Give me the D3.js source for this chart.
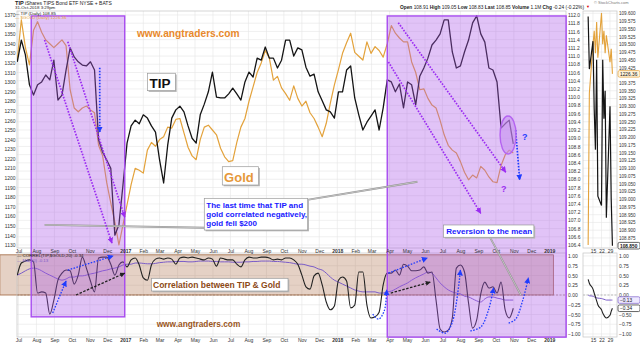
<!DOCTYPE html>
<html><head><meta charset="utf-8">
<script src="https://cdn.jsdelivr.net/npm/d3@7/dist/d3.min.js"></script>
<style>
html,body{margin:0;padding:0;background:#fff;overflow:hidden}
svg{display:block;font-family:"Liberation Sans",Arial,Helvetica,sans-serif}
</style></head><body>
<svg id="chart" width="640" height="343"></svg>
<script>
// ================= DATA =================
// weekly samples (every 7 days) starting 2016-06-29, through 2018-10-31
const weekStart = "2016-06-29";
const tipValues = [110.86,111.39,111.03,110.30,110.05,110.30,110.37,110.54,110.42,110.90,
109.93,110.05,110.66,111.20,110.98,110.86,110.78,110.76,110.86,110.66,
108.96,108.66,108.47,108.27,106.64,106.89,107.86,108.88,109.30,109.44,
109.35,109.57,109.49,109.30,109.15,108.47,107.91,108.83,109.49,109.69,
109.78,109.64,109.30,109.00,108.88,109.57,109.83,110.13,110.61,110.00,
109.98,109.98,110.08,110.22,110.08,109.93,110.37,110.61,110.49,110.95,
110.90,111.22,110.95,110.95,110.71,110.90,111.39,111.39,111.00,111.20,
111.15,110.73,110.51,110.56,110.13,109.91,109.69,109.64,109.49,110.13,
110.13,110.66,110.76,109.98,109.57,109.20,109.39,109.54,109.69,109.20,
109.74,110.42,110.37,110.13,110.32,109.74,110.37,110.30,109.81,110.51,
110.71,110.95,111.27,111.39,111.54,111.88,111.88,111.10,110.71,110.76,
111.10,111.39,111.81,111.98,111.54,111.34,110.71,110.66,110.37,109.25,
109.35,109.44,108.86];
const goldValues = [1323,1365,1336,1318,1354,1363,1352,1344,1340,1336,
1340,1344,1338,1292,1273,1269,1273,1275,1271,1268,
1234,1223,1195,1174,1154,1130,1151,1172,1193,1210,
1208,1205,1229,1237,1233,1240,1243,1253,1252,1261,
1262,1247,1232,1223,1219,1240,1253,1255,1250,1245,
1231,1222,1217,1218,1237,1253,1262,1280,1295,1310,
1320,1333,1325,1302,1306,1294,1288,1281,1296,1283,
1275,1280,1268,1262,1253,1243,1257,1278,1297,1313,
1330,1341,1351,1331,1327,1323,1342,1330,1337,1333,
1326,1340,1359,1351,1346,1342,1342,1321,1310,1292,
1293,1283,1276,1273,1260,1245,1234,1229,1226,1217,
1206,1198,1203,1200,1212,1208,1201,1196,1195,1213,
1224,1229,1226];
const correlValues = [0.51,0.82,0.87,0.90,0.85,0.05,0.08,0.05,-0.49,-0.13,
0.38,0.56,0.64,0.62,0.28,0.51,0.97,0.69,0.36,0.08,
0.95,0.97,0.97,0.79,0.51,0.77,0.85,0.72,0.90,0.95,
0.77,0.44,0.38,0.77,0.92,0.95,0.92,0.95,0.92,0.79,
0.95,0.97,0.95,0.97,0.95,0.92,0.90,0.95,0.92,0.74,
0.95,0.92,0.90,0.90,0.79,0.72,0.90,0.97,0.95,0.95,
0.97,0.97,0.95,0.90,0.92,0.90,0.95,0.95,0.90,0.79,
0.51,0.21,0.15,0.49,0.56,0.26,-0.18,-0.38,-0.28,0.38,
0.46,0.36,-0.33,-0.26,0.59,0.59,-0.26,-0.59,-0.56,-0.44,
0.26,0.56,0.56,0.64,0.51,0.79,0.74,0.62,0.62,0.64,
0.72,0.56,0.59,-0.13,-0.87,-0.95,-0.90,-0.59,0.69,0.77,
0.59,-0.21,-0.85,-0.64,0.03,0.33,0.18,0.21,0.05,0.33,
-0.38,-0.59,-0.34];
const maValues = [0.51,0.56,0.62,0.67,0.69,0.67,0.62,0.56,0.51,0.46,
0.41,0.38,0.41,0.46,0.46,0.49,0.49,0.51,0.54,0.56,
0.59,0.62,0.64,0.67,0.69,0.72,0.77,0.79,0.79,0.82,
0.82,0.81,0.80,0.80,0.81,0.83,0.84,0.85,0.85,0.86,
0.86,0.86,0.85,0.85,0.86,0.87,0.87,0.87,0.86,0.86,
0.85,0.85,0.85,0.84,0.84,0.84,0.85,0.85,0.86,0.86,
0.87,0.87,0.87,0.86,0.86,0.85,0.84,0.83,0.81,0.79,
0.79,0.77,0.74,0.72,0.67,0.64,0.56,0.46,0.38,0.33,
0.28,0.23,0.18,0.13,0.10,0.08,0.08,0.08,0.08,0.05,
0.05,0.08,0.10,0.15,0.21,0.26,0.31,0.38,0.44,0.49,
0.54,0.59,0.56,0.44,0.31,0.21,0.13,0.08,0.05,0.03,
-0.03,-0.05,-0.10,-0.15,-0.18,-0.10,-0.05,-0.05,-0.08,-0.10,
-0.13,-0.13,-0.13];

// side (recent-days) panel
const sideDates = ["2018-10-11","2018-10-12","2018-10-15","2018-10-16","2018-10-17","2018-10-18","2018-10-19","2018-10-22","2018-10-23","2018-10-24","2018-10-25","2018-10-26","2018-10-29","2018-10-30","2018-10-31"];
const sideTip = [109.59,109.42,109.51,109.29,109.16,109.45,109.01,108.98,109.45,109.26,109.35,108.94,109.30,109.00,108.85];
const sideGold = [1188,1222,1233,1236,1231,1238,1230,1240,1233,1236,1231,1235,1229,1232,1226.36];
const sideCorrel = [0.40,0.30,0.15,0.05,-0.05,-0.15,-0.25,-0.38,-0.46,-0.52,-0.57,-0.59,-0.52,-0.42,-0.34];
const sideMa = [0.00,-0.02,-0.03,-0.05,-0.06,-0.07,-0.08,-0.09,-0.10,-0.11,-0.12,-0.13,-0.13,-0.13,-0.13];

// tick labels
const goldTicks = [1130,1140,1150,1160,1170,1180,1190,1200,1210,1220,1230,1240,1250,1260,1270,1280,1290,1300,1310,1320,1330,1340,1350,1360,1370];
const tipTicks = [106.4,106.6,106.8,107.0,107.2,107.4,107.6,107.8,108.0,108.2,108.4,108.6,108.8,109.0,109.2,109.4,109.6,109.8,110.0,110.2,110.4,110.6,110.8,111.0,111.2,111.4,111.6,111.8,112.0];
const corTicks = [1,0.75,0.5,0.25,0,-0.25,-0.5,-0.75,-1];
const sideTicks = [109.600,109.575,109.550,109.525,109.500,109.475,109.450,109.425,109.375,109.350,109.325,109.300,109.275,109.250,109.225,109.200,109.175,109.150,109.125,109.100,109.075,109.050,109.025,109.000,108.975,108.950,108.925,108.900,108.875];
const sideCorTicks = [1,0.75,0.5,0.25,0,-0.5,-0.75,-1];
const sideDayTicks = ["2018-10-15","2018-10-22","2018-10-29"];
const monthStart = "2016-07-01", monthEnd = "2019-01-02";

// ================= SCALES =================
const parse = d3.timeParse("%Y-%m-%d");
const weekDates = tipValues.map((_, i) => d3.timeDay.offset(parse(weekStart), 7 * i));
const x = d3.scaleTime().domain([parse("2017-01-01"), parse("2019-01-01")]).range([125.3, 549.3]);
const yGold = d3.scaleLinear().domain([1130, 1370]).range([245, 15]);
const yTip = d3.scaleLinear().domain([106.4, 112.0]).range([245, 15]);
const yCor = d3.scaleLinear().domain([-1, 1]).range([334, 256]);
const sideX = d3.scaleTime().domain([parse("2018-10-15"), parse("2018-10-29")]).range([593, 610]);
const ySide = d3.scaleLinear().domain([108.85, 109.6]).range([245.7, 13.3]);
const ySideGold = d3.scaleLinear().domain([1188, 1240]).range([245, 13]);

const P = {l: 17, r: 566, t: 11, b: 248, lt: 253, lb: 337, sl: 583, sr: 617};
const C = {tip: "#141414", gold: "#e3a23b", purple: "#9b2cf2", blue: "#1f3cff", ma: "#7a5cc8", brown: "#8d4a17"};

const svg = d3.select("#chart");
svg.append("rect").attr("width", 640).attr("height", 343).attr("fill", "#fff");
const defs = svg.append("defs");
function marker(id, color, s) {
  defs.append("marker").attr("id", id).attr("viewBox", "0 0 10 10").attr("refX", 9).attr("refY", 5)
    .attr("markerWidth", s).attr("markerHeight", s).attr("markerUnits", "userSpaceOnUse").attr("orient", "auto")
    .append("path").attr("d", "M0,0L10,5L0,10z").attr("fill", color);
}
marker("aP", C.purple, 6); marker("aB", C.blue, 6); marker("aK", "#222", 5);
function clip(id, x0, y0, w, h) { defs.append("clipPath").attr("id", id).append("rect").attr("x", x0).attr("y", y0).attr("width", w).attr("height", h); }
clip("cMain", P.l, P.t, P.r - P.l, P.b - P.t);
clip("cLow", P.l, P.lt, P.r - P.l, P.lb - P.lt);
clip("cSide", P.sl, P.t, P.sr - P.sl, P.b - P.t);
clip("cSideLow", P.sl, P.lt, P.sr - P.sl, P.lb - P.lt);

// ================= GRID =================
const months = d3.timeMonth.range(parse(monthStart), parse(monthEnd));
const grid = svg.append("g").attr("stroke", "#e6e6e6").attr("stroke-width", 0.6);
months.forEach(m => {
  grid.append("line").attr("x1", x(m)).attr("x2", x(m)).attr("y1", P.t).attr("y2", P.b);
  grid.append("line").attr("x1", x(m)).attr("x2", x(m)).attr("y1", P.lt).attr("y2", P.lb);
});
tipTicks.forEach(v => grid.append("line").attr("x1", P.l).attr("x2", P.r).attr("y1", yTip(v)).attr("y2", yTip(v)));
corTicks.forEach(v => grid.append("line").attr("x1", P.l).attr("x2", P.r).attr("y1", yCor(v)).attr("y2", yCor(v)));
sideTicks.forEach(v => grid.append("line").attr("x1", P.sl).attr("x2", P.sr).attr("y1", ySide(v)).attr("y2", ySide(v)));
sideDayTicks.forEach(d => {
  grid.append("line").attr("x1", sideX(parse(d))).attr("x2", sideX(parse(d))).attr("y1", P.t).attr("y2", P.b);
  grid.append("line").attr("x1", sideX(parse(d))).attr("x2", sideX(parse(d))).attr("y1", P.lt).attr("y2", P.lb);
});
corTicks.forEach(v => grid.append("line").attr("x1", P.sl).attr("x2", P.sr).attr("y1", yCor(v)).attr("y2", yCor(v)));

// tan correlation band (0 .. 1)
svg.append("rect")
  .attr("x", x(parse("2016-05-30"))).attr("y", yCor(1.03))
  .attr("width", x(parse("2019-01-08")) - x(parse("2016-05-30"))).attr("height", yCor(0) - yCor(1.03))
  .attr("fill", "rgba(168,104,62,0.30)").attr("stroke", "#a0643c").attr("stroke-width", 0.8);
// zero line
svg.append("line").attr("x1", P.l).attr("x2", P.r).attr("y1", yCor(0)).attr("y2", yCor(0))
  .attr("stroke", "#9a7a66").attr("stroke-width", 0.7).attr("stroke-dasharray", "2,1.5");
svg.append("line").attr("x1", P.sl).attr("x2", P.sr).attr("y1", yCor(0)).attr("y2", yCor(0))
  .attr("stroke", "#999").attr("stroke-width", 0.6).attr("stroke-dasharray", "2,1.5");

// frames
[[P.l, P.t, P.r - P.l, P.b - P.t], [P.l, P.lt, P.r - P.l, P.lb - P.lt], [P.sl, P.t, P.sr - P.sl, P.b - P.t], [P.sl, P.lt, P.sr - P.sl, P.lb - P.lt]]
  .forEach(r => svg.append("rect").attr("x", r[0]).attr("y", r[1]).attr("width", r[2]).attr("height", r[3]).attr("fill", "none").attr("stroke", "#c4c4c4").attr("stroke-width", 0.7));

// ================= LINES =================
const lineGold = d3.line().x((d, i) => x(weekDates[i])).y(d => yGold(d));
const lineTip = d3.line().x((d, i) => x(weekDates[i])).y(d => yTip(d));
const lineCor = d3.line().x((d, i) => x(weekDates[i])).y(d => yCor(d)).curve(d3.curveMonotoneX);
svg.append("path").datum(goldValues).attr("d", lineGold).attr("clip-path", "url(#cMain)")
  .attr("fill", "none").attr("stroke", C.gold).attr("stroke-width", 1.2).attr("stroke-linejoin", "round");
svg.append("path").datum(tipValues).attr("d", lineTip).attr("clip-path", "url(#cMain)")
  .attr("fill", "none").attr("stroke", C.tip).attr("stroke-width", 1.3).attr("stroke-linejoin", "round");
svg.append("path").datum(maValues).attr("d", lineCor).attr("clip-path", "url(#cLow)")
  .attr("fill", "none").attr("stroke", C.ma).attr("stroke-width", 1);
svg.append("path").datum(correlValues).attr("d", lineCor).attr("clip-path", "url(#cLow)")
  .attr("fill", "none").attr("stroke", "#222").attr("stroke-width", 1.1);

// side panel
const sD = sideDates.map(parse);
svg.append("path").datum(sideGold).attr("clip-path", "url(#cSide)")
  .attr("d", d3.line().x((d, i) => sideX(sD[i])).y(d => ySideGold(d)))
  .attr("fill", "none").attr("stroke", C.gold).attr("stroke-width", 1.1);
svg.append("path").datum(sideTip).attr("clip-path", "url(#cSide)")
  .attr("d", d3.line().x((d, i) => sideX(sD[i])).y(d => ySide(d)))
  .attr("fill", "none").attr("stroke", C.tip).attr("stroke-width", 1.2);
const sideCorLine = d3.line().x((d, i) => sideX(sD[i])).y(d => yCor(d)).curve(d3.curveMonotoneX);
svg.append("path").datum(sideMa).attr("d", sideCorLine).attr("clip-path", "url(#cSideLow)")
  .attr("fill", "none").attr("stroke", C.ma).attr("stroke-width", 1);
svg.append("path").datum(sideCorrel).attr("d", sideCorLine).attr("clip-path", "url(#cSideLow)")
  .attr("fill", "none").attr("stroke", "#222").attr("stroke-width", 1.1);

// ================= PURPLE HIGHLIGHT ZONES =================
function zone(d0, d1, yTop, yBot) {
  svg.append("rect").attr("x", x(parse(d0))).attr("y", yTop).attr("width", x(parse(d1)) - x(parse(d0))).attr("height", yBot - yTop)
    .attr("fill", "rgba(172,88,232,0.36)").attr("stroke", "#a84cf0").attr("stroke-width", 1.4);
}
zone("2016-07-23", "2016-12-31", yGold(1369), yCor(-0.56));
zone("2018-03-28", "2019-01-30", yGold(1369), yCor(-1.08));

// ================= AXES =================
const fs = 5;
function styleAxis(g) { g.select(".domain").remove(); g.selectAll("text").attr("font-size", fs).attr("fill", "#333"); }
svg.append("g").attr("transform", `translate(${P.l},0)`)
  .call(d3.axisLeft(yGold).tickValues(goldTicks).tickSize(0).tickPadding(1.5).tickFormat(d3.format("d"))).call(styleAxis);
svg.append("g").attr("transform", `translate(${P.r},0)`)
  .call(d3.axisRight(yTip).tickValues(tipTicks).tickSize(0).tickPadding(2).tickFormat(d3.format(".1f"))).call(styleAxis);
svg.append("g").attr("transform", `translate(${P.r},0)`)
  .call(d3.axisRight(yCor).tickValues(corTicks).tickSize(0).tickPadding(2).tickFormat(d3.format(".2f"))).call(styleAxis);
const mFmt = d => d.getMonth() === 0 ? d3.timeFormat("%Y")(d) : d3.timeFormat("%b")(d);
[P.b, P.lb].forEach(yy => {
  const g = svg.append("g").attr("transform", `translate(0,${yy})`)
    .call(d3.axisBottom(x).tickValues(months).tickSize(0).tickPadding(1).tickFormat(mFmt)).call(styleAxis);
  g.selectAll("text").attr("font-weight", d => d.getMonth() === 0 ? "bold" : "normal");
});
// side axes
svg.append("g").attr("transform", `translate(${P.sr},0)`)
  .call(d3.axisRight(ySide).tickValues(sideTicks).tickSize(0).tickPadding(2).tickFormat(d3.format(".3f"))).call(styleAxis)
  .selectAll("text").attr("font-size", 4.6);
svg.append("g").attr("transform", `translate(${P.sr},0)`)
  .call(d3.axisRight(yCor).tickValues(sideCorTicks).tickSize(0).tickPadding(2).tickFormat(d3.format(".2f"))).call(styleAxis);
[P.b, P.lb].forEach(yy => svg.append("g").attr("transform", `translate(0,${yy})`)
  .call(d3.axisBottom(sideX).tickValues(sideDayTicks.map(parse)).tickSize(0).tickPadding(1).tickFormat(d3.timeFormat("%-d"))).call(styleAxis));

// value boxes on side axes
function valBox(yy, txt, stroke, fill, bold) {
  svg.append("rect").attr("x", P.sr + 1).attr("y", yy - 3.3).attr("width", 22).attr("height", 6.6).attr("rx", 1.5)
    .attr("fill", fill).attr("stroke", stroke).attr("stroke-width", 0.7);
  svg.append("text").attr("x", P.sr + 3).attr("y", yy + 1.8).attr("font-size", 4.8).attr("font-weight", bold ? "bold" : "normal")
    .attr("fill", "#111").text(txt);
}
valBox(ySideGold(sideGold[sideGold.length - 1]), d3.format(".2f")(sideGold[sideGold.length - 1]), C.gold, "#fff4dc", false);
valBox(ySide(sideTip[sideTip.length - 1]), d3.format(".3f")(sideTip[sideTip.length - 1]), "#222", "#fff", true);
valBox(yCor(sideMa[sideMa.length - 1]), d3.format(".2f")(sideMa[sideMa.length - 1]), C.ma, "#eee8ff", false);
valBox(yCor(sideCorrel[sideCorrel.length - 1]), d3.format(".2f")(sideCorrel[sideCorrel.length - 1]), "#222", "#fff", false);

// ================= HEADER / LEGENDS =================
const hdr = svg.append("g").attr("fill", "#222");
hdr.append("text").attr("x", 15).attr("y", 4.6).attr("font-size", 5).html('<tspan font-weight="bold" font-size="5.6">TIP</tspan> iShares TIPS Bond ETF  NYSE + BATS');
hdr.append("text").attr("x", 15).attr("y", 9.2).attr("font-size", 4.4).text("31-Oct-2018 3:29pm");
hdr.append("text").attr("x", 15).attr("y", 14.6).attr("font-size", 4.4).text("— TIP (Daily) " + d3.format(".2f")(tipValues[tipValues.length - 1] - 0.01));
hdr.append("text").attr("x", 15).attr("y", 19).attr("font-size", 4.4).attr("fill", C.gold).text("— $GOLD (Daily) 1226.36");
hdr.append("text").attr("x", 400).attr("y", 8.5).attr("font-size", 4.6).attr("textLength", 184).attr("lengthAdjust", "spacingAndGlyphs")
  .html('<tspan font-weight="bold">Open</tspan> 108.91  <tspan font-weight="bold">High</tspan> 109.05  <tspan font-weight="bold">Low</tspan> 108.83  <tspan font-weight="bold">Last</tspan> 108.85  <tspan font-weight="bold">Volume</tspan> 1.1M  <tspan font-weight="bold">Chg</tspan> -0.24 (-0.22%)');
hdr.append("text").attr("x", 586).attr("y", 8.3).attr("font-size", 4).attr("fill", "#d00").text("▼");
hdr.append("text").attr("x", 594).attr("y", 3.6).attr("font-size", 4).attr("fill", "#777").text("© StockCharts.com");
svg.append("text").attr("x", 17).attr("y", 256.8).attr("font-size", 4.4).attr("fill", "#222").text("— CORREL(TIP,$GOLD,20) -0.34");
svg.append("text").attr("x", 17).attr("y", 262.4).attr("font-size", 4.4).attr("fill", C.ma).text("— MA(50) -0.13");

// ================= ANNOTATIONS =================
const pG = (d, g) => [x(parse(d)), yGold(g)];
const pC = (d, c) => [x(parse(d)), yCor(c)];

// callout lines (grey)
function callout(a, b) {
  svg.append("line").attr("x1", a[0]).attr("y1", a[1]).attr("x2", b[0]).attr("y2", b[1]).attr("stroke", "#8f8f8f").attr("stroke-width", 1.8);
  svg.append("line").attr("x1", a[0]).attr("y1", a[1]).attr("x2", b[0]).attr("y2", b[1]).attr("stroke", "#e4e4e4").attr("stroke-width", 0.6);
}
callout(pG("2016-08-15", 1151), pG("2017-05-18", 1148));
callout(pG("2017-11-10", 1177), pG("2018-05-19", 1196));
callout(pG("2018-09-21", 1138), pC("2018-11-13", 0));

// dotted arrows on price panel
const mainArrows = [
  {a: ["2016-08-15", 1344], b: ["2016-12-09", 1132], m: "aP", c: C.purple},
  {a: ["2016-09-24", 1342], b: ["2016-12-31", 1159], m: "aP", c: C.purple},
  {a: ["2016-11-18", 1315], b: ["2016-11-18", 1248], m: "aB", c: C.blue},
  {a: ["2018-04-16", 1362], b: ["2018-10-18", 1206], m: "aP", c: C.purple},
  {a: ["2018-03-30", 1321], b: ["2018-09-05", 1163], m: "aP", c: C.purple},
  {a: ["2018-11-04", 1250], b: ["2018-11-11", 1198], m: "aB", c: C.blue}
];
mainArrows.forEach(o => {
  const A = pG(...o.a), B = pG(...o.b);
  svg.append("line").attr("x1", A[0]).attr("y1", A[1]).attr("x2", B[0]).attr("y2", B[1])
    .attr("stroke", o.c).attr("stroke-width", 1.7).attr("stroke-dasharray", "1.6,1.4").attr("marker-end", `url(#${o.m})`);
});
// ellipse highlight
const ec = pG("2018-10-22", 1244.8);
svg.append("ellipse").attr("cx", ec[0]).attr("cy", ec[1]).attr("rx", 8).attr("ry", 19)
  .attr("fill", "rgba(196,140,240,0.55)").attr("stroke", "#b463f0").attr("stroke-width", 1.4);
svg.append("path").datum(sideTip.slice(-6)).attr("d", null);
const q1 = pG("2018-11-15", 1240), q2 = pG("2018-10-10", 1185);
svg.append("text").attr("x", q1[0]).attr("y", q1[1]).attr("font-size", 9).attr("font-weight", "bold").attr("fill", C.blue).text("?");
svg.append("text").attr("x", q2[0]).attr("y", q2[1]).attr("font-size", 9).attr("font-weight", "bold").attr("fill", C.purple).text("?");

// arrows on correlation panel
const lowArrows = [
  {pts: [["2016-08-29", -0.46], ["2016-09-21", 0.36]], m: "aB", c: C.blue, dash: "1.6,1.4"},
  {pts: [["2016-09-24", 0.64], ["2016-12-11", 1.0]], m: "aB", c: C.blue, dash: "1.6,1.4"},
  {pts: [["2016-10-08", 0], ["2016-12-31", 0.56]], m: "aK", c: "#222", dash: "2.5,1.5"},
  {pts: [["2018-03-03", -0.49], ["2018-03-13", -0.62], ["2018-03-23", -0.40], ["2018-03-27", 0.13]], m: "aB", c: C.blue, dash: "1.6,1.4"},
  {pts: [["2018-03-30", 0.56], ["2018-06-05", 0.95]], m: "aB", c: C.blue, dash: "1.6,1.4"},
  {pts: [["2018-04-03", 0.05], ["2018-06-10", 0.33]], m: "aK", c: "#222", dash: "2.5,1.5"},
  {pts: [["2018-06-21", -0.87], ["2018-07-06", -0.98], ["2018-07-18", -0.70], ["2018-08-01", 0.64]], m: "aB", c: C.blue, dash: "1.6,1.4"},
  {pts: [["2018-08-18", -0.92], ["2018-09-05", -0.82], ["2018-09-18", -0.40], ["2018-09-27", 0.18]], m: "aB", c: C.blue, dash: "1.6,1.4"},
  {pts: [["2018-10-23", -0.72], ["2018-11-04", -0.62], ["2018-11-16", -0.15], ["2018-11-26", 0.44]], m: "aB", c: C.blue, dash: "1.6,1.4"}
];
lowArrows.forEach(o => {
  svg.append("path").attr("d", d3.line().curve(d3.curveCatmullRom)(o.pts.map(p => pC(...p))))
    .attr("fill", "none").attr("stroke", o.c).attr("stroke-width", 1.3).attr("stroke-dasharray", o.dash).attr("marker-end", `url(#${o.m})`);
});

// text boxes
function box(p, w, h) {
  svg.append("rect").attr("x", p[0] + 1.3).attr("y", p[1] + 1.3).attr("width", w).attr("height", h).attr("fill", "#b8b8b8");
  svg.append("rect").attr("x", p[0]).attr("y", p[1]).attr("width", w).attr("height", h).attr("fill", "#fff").attr("stroke", "#9a9a9a").attr("stroke-width", 0.7);
}
const tipBox = pG("2017-02-08", 1309.2);
box(tipBox, 28, 17.4);
svg.append("text").attr("x", tipBox[0] + 2.2).attr("y", tipBox[1] + 14.3).attr("font-size", 13.5).attr("font-weight", "bold").attr("fill", "#111").text("TIP");
const goldBox = pG("2017-06-17", 1211.7);
box(goldBox, 36.3, 18.3);
svg.append("text").attr("x", goldBox[0] + 1.8).attr("y", goldBox[1] + 14.8).attr("font-size", 13).attr("font-weight", "bold").attr("fill", "#e6983a").text("Gold");
const noteBox = pG("2017-05-17", 1178.7);
box(noteBox, 103.4, 31.7);
["The last time that TIP and", "gold correlated negatively,", "gold fell $200"].forEach((t, i) =>
  svg.append("text").attr("x", noteBox[0] + 2).attr("y", noteBox[1] + 9.2 + i * 9).attr("font-size", 8).attr("font-weight", "bold").attr("fill", "#1a1aff").text(t));
const revBox = pG("2018-07-03", 1150.9);
box(revBox, 90.3, 12.3);
svg.append("text").attr("x", revBox[0] + 2.7).attr("y", revBox[1] + 9.3).attr("font-size", 8).attr("font-weight", "bold").attr("fill", "#1a1aff").text("Reversion to the mean");
const corBox = pC("2017-02-15", 0.428);
box(corBox, 136.6, 12.7);
svg.append("text").attr("x", corBox[0] + 1.6).attr("y", corBox[1] + 9.6).attr("font-size", 8.5).attr("font-weight", "bold").attr("fill", C.brown).text("Correlation between TIP & Gold");
const web1 = pG("2017-01-21", 1347.3);
svg.append("text").attr("x", web1[0]).attr("y", web1[1]).attr("font-size", 10.2).attr("font-weight", "bold").attr("fill", "#e8892b").text("www.angtraders.com");
const web2 = pC("2017-02-24", -0.81);
svg.append("text").attr("x", web2[0]).attr("y", web2[1]).attr("font-size", 8.3).attr("font-weight", "bold").attr("fill", "#9a561c").text("www.angtraders.com");
</script>
</body></html>
